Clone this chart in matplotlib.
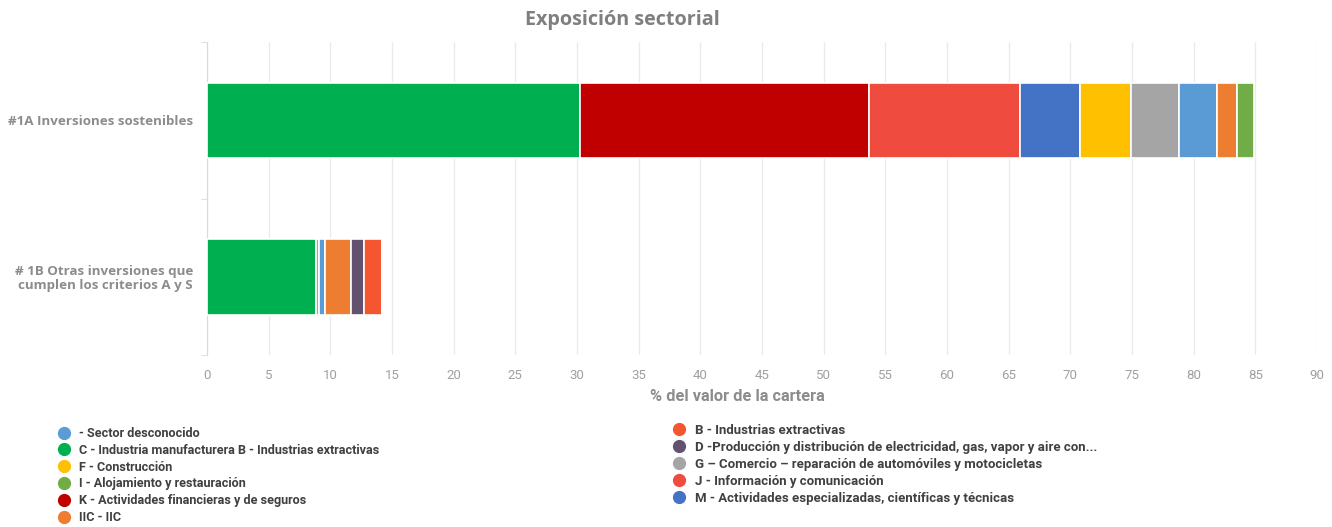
import matplotlib
matplotlib.use('Agg')
import matplotlib.pyplot as plt
from matplotlib.lines import Line2D
import numpy as np

# categorías (de arriba a abajo)
categorias = ['#1A Inversiones sostenibles',
              '# 1B Otras inversiones que\ncumplen los criterios A y S']

# sectores en el orden de apilado
sectores = ['C', 'K', 'J', 'M', 'F', 'G', 'SD', 'IIC', 'D', 'B', 'I']
colores = ['#00B050', '#C00000', '#EF4B3F', '#4472C4', '#FFC000', '#A5A5A5',
           '#5B9BD5', '#ED7D31', '#62516F', '#F4572F', '#70AD47']
val_sostenibles = [30.25, 23.45, 12.2, 4.9, 4.1, 3.9, 3.1, 1.6, 0.0, 0.0, 1.4]
val_otras = [8.85, 0.0, 0.0, 0.0, 0.0, 0.25, 0.5, 2.1, 1.0, 1.5, 0.0]

# leyenda (dos columnas)
leyenda_izq = [('SD', '- Sector desconocido'),
               ('C', 'C - Industria manufacturera B - Industrias extractivas'),
               ('F', 'F - Construcción'),
               ('I', 'I - Alojamiento y restauración'),
               ('K', 'K - Actividades financieras y de seguros'),
               ('IIC', 'IIC - IIC')]
leyenda_der = [('B', 'B - Industrias extractivas'),
               ('D', 'D -Producción y distribución de electricidad, gas, vapor y aire con...'),
               ('G', 'G – Comercio – reparación de automóviles y motocicletas'),
               ('J', 'J - Información y comunicación'),
               ('M', 'M - Actividades especializadas, científicas y técnicas')]

plt.rcParams['font.family'] = ['Roboto', 'DejaVu Sans']
sans = ['Open Sans', 'DejaVu Sans']

fig = plt.figure(figsize=(13.32, 5.27), dpi=100)
ax = fig.add_axes([0.1554, 0.326, 0.8333, 0.594])

y = np.arange(len(categorias))
valores = np.array([val_sostenibles, val_otras])
left = np.zeros(len(categorias))
for i, s in enumerate(sectores):
    ax.barh(y, valores[:, i], left=left, height=0.48, color=colores[i],
            edgecolor='white', linewidth=1.2, zorder=3)
    left += valores[:, i]

ax.set_ylim(1.5, -0.5)
ax.set_xlim(0, 90)
ax.set_xticks(np.arange(0, 91, 5))
ax.set_yticks(y)
ax.set_yticklabels(categorias, fontsize=9.6, fontweight='bold', color='#8c8c8c',
                   family=sans, linespacing=1.05)
ax.set_yticks([-0.5, 0.5, 1.5], minor=True)
ax.tick_params(axis='y', which='major', length=0, pad=10)
ax.tick_params(axis='y', which='minor', length=4, color='#d9d9d9')
ax.tick_params(axis='x', length=0, labelsize=9.5, labelcolor='#a0a0a0', pad=10)
ax.grid(axis='x', color='#ebebeb', linewidth=1, zorder=0)
for side in ['top', 'right', 'bottom']:
    ax.spines[side].set_visible(False)
ax.spines['left'].set_color('#d9d9d9')

ax.set_xlabel('% del valor de la cartera', fontsize=11.8, color='#8c8c8c',
              fontweight='bold')
ax.xaxis.set_label_coords(0.478, -0.108)
fig.text(0.467, 0.962, 'Exposición sectorial', ha='center', va='center',
         fontsize=14.2, fontweight='bold', color='#7f7f7f', family=sans)

col = dict(zip(sectores, colores))

def hacer_leyenda(items, x, y0, fs):
    handles = [Line2D([], [], marker='o', linestyle='', markersize=8.5,
                      markerfacecolor=col[k], markeredgecolor=col[k])
               for k, _ in items]
    labels = [t for _, t in items]
    leg = fig.legend(handles, labels, loc='upper left', bbox_to_anchor=(x, y0),
                     frameon=False, borderpad=0, borderaxespad=0,
                     handlelength=0.8, handletextpad=0.8, labelspacing=0.3,
                     prop={'size': fs, 'weight': 'bold'})
    for t in leg.get_texts():
        t.set_color('#404040')
    return leg

hacer_leyenda(leyenda_izq, 0.0443, 1 - 427 / 527, 9.1)
hacer_leyenda(leyenda_der, 0.5060, 1 - 424 / 527, 9.5)

plt.savefig('out.png', dpi=100)
plt.close()
